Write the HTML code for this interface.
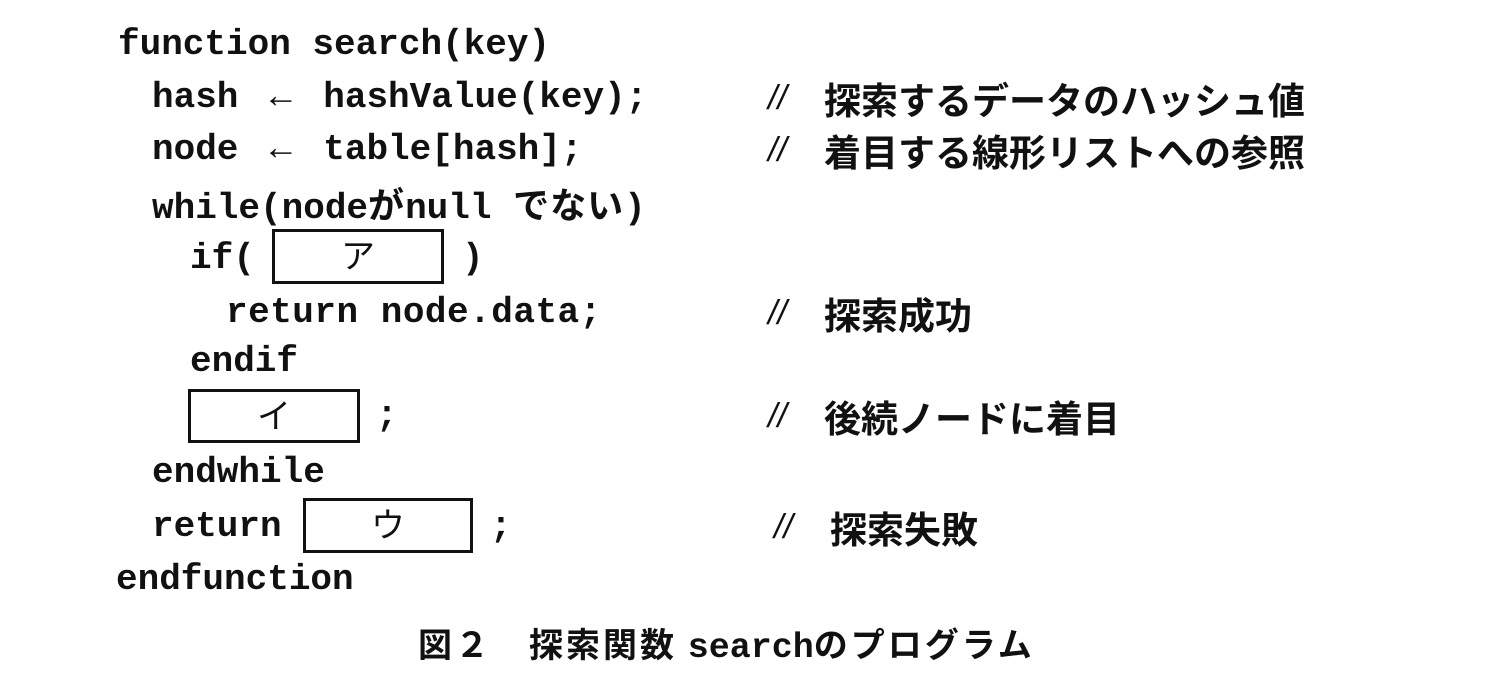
<!DOCTYPE html>
<html><head><meta charset="utf-8"><style>
body{margin:0;background:#fff;}
#c{position:relative;width:1486px;height:692px;overflow:hidden;background:#fff;}
.l{position:absolute;height:54px;line-height:54px;white-space:pre;font-family:"Liberation Mono","Noto Sans CJK JP",monospace;font-weight:bold;font-size:36px;color:#111;}
.j{font-family:"Noto Sans CJK JP",sans-serif;font-weight:bold;font-size:36px;letter-spacing:1px;}
.ar{display:inline-block;margin:0 10px;}
.cm{position:absolute;height:54px;line-height:54px;white-space:pre;font-family:"Noto Sans CJK JP",sans-serif;font-weight:bold;font-size:37px;letter-spacing:0px;color:#111;}
.sl{position:absolute;height:54px;line-height:54px;font-family:"Liberation Sans",sans-serif;font-style:italic;font-size:34px;color:#111;}
.box{position:absolute;border:3px solid #111;box-sizing:border-box;text-align:center;font-family:"Noto Sans CJK JP",sans-serif;font-size:34px;line-height:44px;color:#111;}
</style></head><body><div id="c">
<div class="l" style="left:118px;top:18px">function search(key)</div>
<div class="l" style="left:152px;top:71px">hash <span class="ar">←</span> hashValue(key);</div>
<div class="l" style="left:152px;top:123px">node <span class="ar">←</span> table[hash];</div>
<div class="l" style="left:152px;top:176px">while(node<span class="j">が</span>null <span class="j">でない</span>)</div>
<div class="l" style="left:190px;top:232px">if(</div>
<div class="box" style="left:272px;top:229px;width:172px;height:55px">ア</div>
<div class="l" style="left:462px;top:232px">)</div>
<div class="l" style="left:226px;top:286px;letter-spacing:0.5px">return node.data;</div>
<div class="l" style="left:190px;top:335px">endif</div>
<div class="box" style="left:188px;top:389px;width:172px;height:54px">イ</div>
<div class="l" style="left:376px;top:389px">;</div>
<div class="l" style="left:152px;top:446px">endwhile</div>
<div class="l" style="left:152px;top:500px">return</div>
<div class="box" style="left:303px;top:498px;width:170px;height:55px">ウ</div>
<div class="l" style="left:490px;top:500px">;</div>
<div class="l" style="left:116px;top:553px">endfunction</div>

<div class="sl" style="left:768px;top:71px">//</div><div class="cm" style="left:824px;top:71px">探索するデータのハッシュ値</div>
<div class="sl" style="left:768px;top:123px">//</div><div class="cm" style="left:824px;top:123px">着目する線形リストへの参照</div>
<div class="sl" style="left:768px;top:286px">//</div><div class="cm" style="left:824px;top:286px">探索成功</div>
<div class="sl" style="left:768px;top:389px">//</div><div class="cm" style="left:824px;top:389px">後続ノードに着目</div>
<div class="sl" style="left:774px;top:500px">//</div><div class="cm" style="left:830px;top:500px">探索失敗</div>

<div class="cm" style="left:418px;top:616px;font-size:34px;letter-spacing:3px">図２　探索関数 <span style="font-family:'Liberation Mono',monospace;font-size:35px;letter-spacing:0">search</span>のプログラム</div>
</div></body></html>
